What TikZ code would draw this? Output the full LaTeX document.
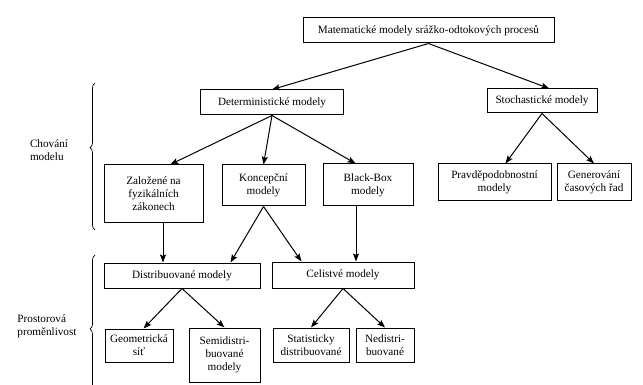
\documentclass[tikz,border=0pt]{standalone}
\usepackage{fontspec}
\setmainfont{Liberation Serif}
\usetikzlibrary{arrows.meta,decorations.pathreplacing}

\tikzset{
  box/.style={draw, line width=1pt, align=center, inner sep=0pt,
    font=\fontsize{11.2}{12.8}\selectfont},
  arr/.style={line width=1pt, -{Stealth[length=8pt,width=6pt,inset=1.5pt]}},
  brc/.style={decorate, decoration={brace, amplitude=5pt}, line width=0.7pt},
  side/.style={align=left, inner sep=0pt, font=\fontsize{11.2}{12.8}\selectfont}
}

\begin{document}
\begin{tikzpicture}[x=1pt,y=-1pt]
\useasboundingbox (0,0) rectangle (643,385);

\node[box, minimum width=251, minimum height=25] (top) at (428.5,30.5) {Matematické modely srážko-odtokových procesů};
\node[box, minimum width=143, minimum height=25] (det) at (272,102.5) {Deterministické modely};
\node[box, minimum width=110, minimum height=24] (stoch) at (542,101) {Stochastické modely};

\node[box, minimum width=99, minimum height=57] (zal) at (153.5,193.5) {Založené na\\fyzikálních\\zákonech};
\node[box, minimum width=83, minimum height=41] (konc) at (263.5,185.5) {Koncepční\\modely};
\node[box, minimum width=90, minimum height=42] (black) at (368,185) {Black-Box\\modely};
\node[box, minimum width=113, minimum height=37] (pravd) at (494.5,182.5) {Pravděpodobnostní\\modely};
\node[box, minimum width=74, minimum height=37] (gener) at (594,182.5) {Generování\\časových řad};

\node[box, minimum width=156, minimum height=25] (dist) at (182,275.5) {Distribuované modely};
\node[box, minimum width=142, minimum height=26] (cel) at (343,275) {Celistvé modely};
\node[box, minimum width=68, minimum height=33] (geo) at (139,345.5) {Geometrická\\síť};
\node[box, minimum width=71, minimum height=54] (semi) at (224.5,355) {Semidistri-\\buované\\modely};
\node[box, minimum width=76, minimum height=34] (stat) at (311,345) {Statisticky\\distribuované};
\node[box, minimum width=58, minimum height=34] (ned) at (385,345) {Nedistri-\\buované};

\node[side] (chov) at (49,150) {Chování\\modelu};
\node[side] (pros) at (47,326) {Prostorová\\proměnlivost};

% pomocne body pro svisle sipky
\coordinate (zd) at (163,0);
\coordinate (bc) at (356,0);

\draw[arr] (node cs:name=top, anchor=south) -- (node cs:name=det, anchor=north);
\draw[arr] (node cs:name=top, anchor=south) -- (node cs:name=stoch, angle=60);
\draw[arr] (node cs:name=det, anchor=south) -- (node cs:name=zal, angle=60);
\draw[arr] (node cs:name=det, anchor=south) -- (node cs:name=konc, anchor=north);
\draw[arr] (node cs:name=det, anchor=south) -- (node cs:name=black, angle=120);
\draw[arr] (node cs:name=stoch, anchor=south) -- (node cs:name=pravd, angle=60);
\draw[arr] (node cs:name=stoch, anchor=south) -- (node cs:name=gener, anchor=north);
\draw[arr] (zal.south -| zd) -- (dist.north -| zd);
\draw[arr] (node cs:name=konc, anchor=south) -- (node cs:name=dist, angle=15);
\draw[arr] (node cs:name=konc, anchor=south) -- (node cs:name=cel, angle=162);
\draw[arr] (black.south -| bc) -- (cel.north -| bc);
\draw[arr] (node cs:name=dist, anchor=south) -- (node cs:name=geo, angle=75);
\draw[arr] (node cs:name=dist, anchor=south) -- (node cs:name=semi, anchor=north);
\draw[arr] (node cs:name=cel, anchor=south) -- (node cs:name=stat, anchor=north);
\draw[arr] (node cs:name=cel, anchor=south) -- (node cs:name=ned, anchor=north);

\draw[brc, decoration={aspect=0.56}] (95,230) -- (95,83);
\draw[brc, decoration={aspect=0.5}] (95,403) -- (95,255);
\end{tikzpicture}
\end{document}
